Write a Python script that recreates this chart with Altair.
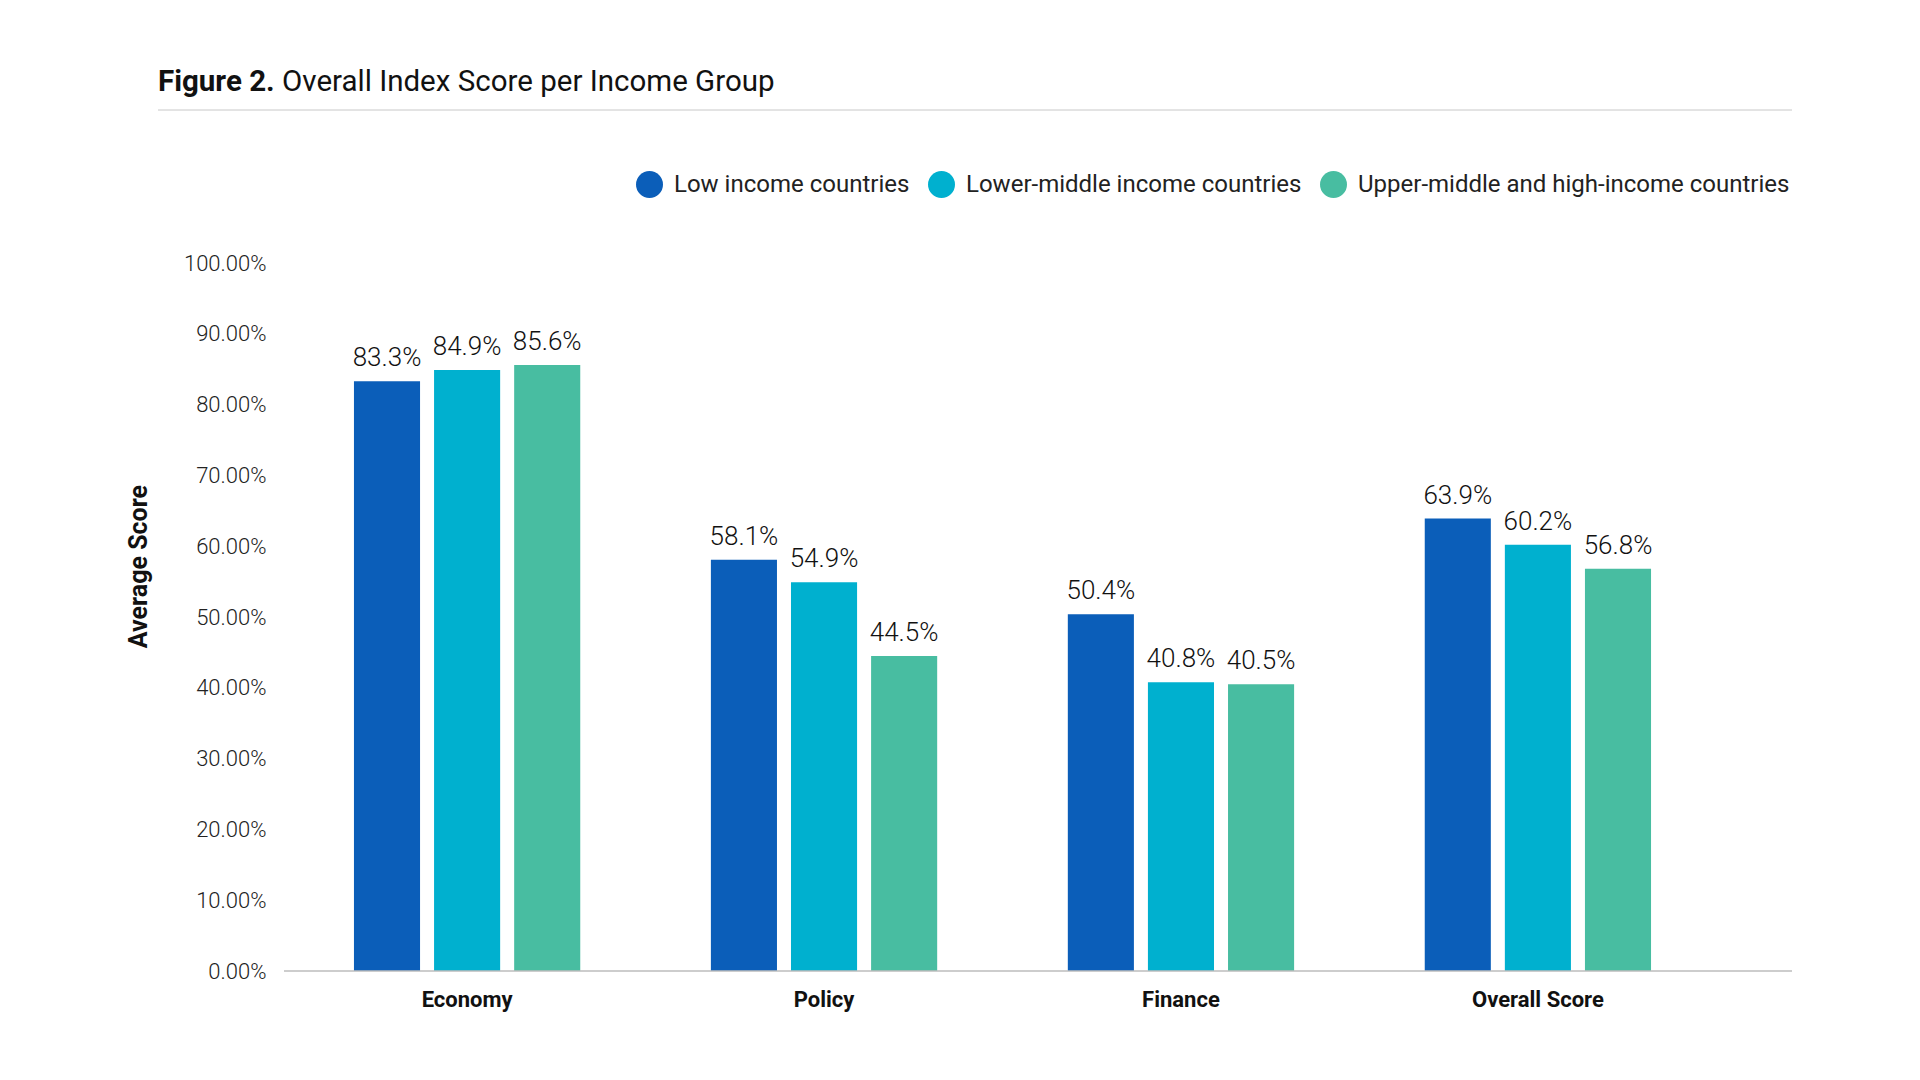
import altair as alt
import pandas as pd

categories = ["Economy", "Policy", "Finance", "Overall Score"]
groups = [
    "Low income countries",
    "Lower-middle income countries",
    "Upper-middle and high-income countries",
]
low_income = [0.833, 0.581, 0.504, 0.639]
lower_middle = [0.849, 0.549, 0.408, 0.602]
upper_high = [0.856, 0.445, 0.405, 0.568]
colors = ["#0B5EB9", "#00B0CF", "#48BDA1"]
y_ticks = [0.0, 0.1, 0.2, 0.3, 0.4, 0.5, 0.6, 0.7, 0.8, 0.9, 1.0]
title_bold = "Figure 2."
title_rest = "Overall Index Score per Income Group"
y_title = "Average Score"

rows = []
for g, vals in zip(groups, [low_income, lower_middle, upper_high]):
    for c, v in zip(categories, vals):
        rows.append({"category": c, "group": g, "value": v})
df = pd.DataFrame(rows)

W, H = 1437, 708
FONT = "Roboto"

x_enc = alt.X(
    "category:N",
    sort=categories,
    title=None,
    scale=alt.Scale(paddingInner=0.366, paddingOuter=0.196),
    axis=alt.Axis(
        labelFont=FONT, labelFontSize=22, labelFontWeight="bold", labelColor="#111111",
        labelAngle=0, ticks=False, domain=False, labelPadding=18,
    ),
)
xo_enc = alt.XOffset("group:N", sort=groups, scale=alt.Scale(paddingInner=0.175))
y_enc = alt.Y(
    "value:Q",
    scale=alt.Scale(domain=[0, 1]),
    axis=alt.Axis(
        format=".2%", values=y_ticks, grid=False, domain=False, ticks=False,
        labelPadding=18, labelFont=FONT, labelFontSize=22, labelFontWeight=300,
        labelColor="#222222",
        title=y_title, titleFont=FONT, titleFontSize=25, titleFontWeight="bold",
        titleColor="#111111", titleX=-146, titleY=303, titleAngle=270,
        titleBaseline="middle", titleAlign="center",
    ),
)
color_enc = alt.Color(
    "group:N",
    sort=groups,
    scale=alt.Scale(domain=groups, range=colors),
    legend=alt.Legend(
        orient="none", legendX=352, legendY=-92, direction="horizontal", title=None,
        symbolType="circle", symbolSize=729, symbolStrokeWidth=0,
        labelFont=FONT, labelFontSize=24, labelColor="#222222", labelLimit=1000,
        columnPadding=18, labelOffset=11,
    ),
)

bars = alt.Chart(df).mark_bar().encode(x=x_enc, xOffset=xo_enc, y=y_enc, color=color_enc)
labels = alt.Chart(df).mark_text(
    dy=-15, baseline="alphabetic", align="center", font=FONT, fontSize=26,
    fontWeight=300, color="#111111"
).encode(x=x_enc, xOffset=xo_enc, y=y_enc, text=alt.Text("value:Q", format=".1%"))

one = pd.DataFrame({"t": [title_bold], "r": [title_rest]})
domain_rule = alt.Chart(one).mark_rule(color="#bdbdbd", strokeWidth=1.5).encode(
    x=alt.value(0), x2=alt.value(1508), y=alt.value(H)
)
title_rule = alt.Chart(one).mark_rule(color="#c8c8c8", strokeWidth=1).encode(
    x=alt.value(-126), x2=alt.value(1508), y=alt.value(-153)
)
t1 = alt.Chart(one).mark_text(
    align="left", baseline="alphabetic", font=FONT, fontSize=29.5, fontWeight="bold", color="#111111"
).encode(x=alt.value(-126), y=alt.value(-172), text="t:N")
t2 = alt.Chart(one).mark_text(
    align="left", baseline="alphabetic", font=FONT, fontSize=29.5, color="#111111"
).encode(x=alt.value(-2), y=alt.value(-172), text="r:N")

chart = alt.layer(bars, labels, domain_rule, title_rule, t1, t2).properties(
    width=W,
    height=H,
    padding={"left": 276, "top": 255, "right": 150, "bottom": 80},
    autosize=alt.AutoSizeParams(type="none"),
).configure_view(stroke=None)

chart.save("out.html", embed_options={"renderer": "svg", "actions": False})
